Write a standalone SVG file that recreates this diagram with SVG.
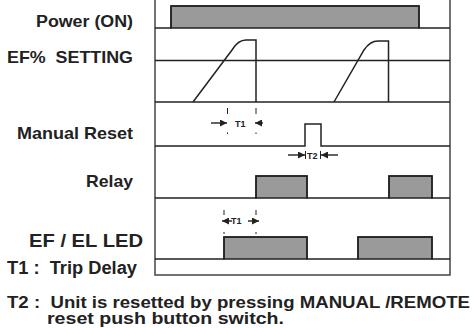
<svg xmlns="http://www.w3.org/2000/svg" width="474" height="328" viewBox="0 0 474 328">
<defs>
<style>
.lbl{font-family:"Liberation Sans",Arial,sans-serif;font-weight:bold;fill:#222;}
.sm{font-family:"Liberation Sans",Arial,sans-serif;font-weight:bold;fill:#222;font-size:9px;}
.ln{stroke:#222;stroke-width:1.5;fill:none;}
.frame{stroke:#444;stroke-width:1.5;fill:none;}
.pulse{fill:#9a9a9a;stroke:#222;stroke-width:1.5;}
.mk{stroke:#222;stroke-width:1;fill:none;}
.ar{stroke:#222;stroke-width:1.4;fill:none;}
</style>
<marker id="ah" viewBox="0 0 10 10" refX="10" refY="5" markerWidth="7" markerHeight="7" markerUnits="userSpaceOnUse" orient="auto">
<path d="M0,0 L10,5 L0,10 z" fill="#222"/>
</marker>
</defs>
<rect width="474" height="328" fill="#fff"/>

<g id="labels">
<text class="lbl" x="36" y="27" font-size="16" textLength="97" lengthAdjust="spacingAndGlyphs">Power (ON)</text>
<text class="lbl" x="7" y="63" font-size="17" textLength="126" lengthAdjust="spacingAndGlyphs" xml:space="preserve">EF%  SETTING</text>
<text class="lbl" x="17" y="139" font-size="17" textLength="116" lengthAdjust="spacingAndGlyphs">Manual Reset</text>
<text class="lbl" x="86" y="187" font-size="17" textLength="47" lengthAdjust="spacingAndGlyphs">Relay</text>
<text class="lbl" x="29" y="247" font-size="18" textLength="114" lengthAdjust="spacingAndGlyphs">EF / EL LED</text>
<text class="lbl" x="7" y="274" font-size="17.5" textLength="130" lengthAdjust="spacingAndGlyphs" xml:space="preserve">T1 :  Trip Delay</text>
<text class="lbl" x="7" y="308" font-size="16.5" textLength="463" lengthAdjust="spacingAndGlyphs" xml:space="preserve">T2 :  Unit is resetted by pressing MANUAL /REMOTE</text>
<text class="lbl" x="47" y="323.5" font-size="16" textLength="237" lengthAdjust="spacingAndGlyphs">reset push button switch.</text>
</g>

<g id="frame">
<path class="frame" d="M155,0 V275 H450 V0"/>
</g>

<g id="power">
<rect class="pulse" x="171" y="6" width="248" height="22"/>
<path class="ln" d="M155,28 H171 V6 H419 V28 H450"/>
</g>

<g id="ef-setting">
<path class="ln" d="M155,60.5 H450"/>
<path class="ln" d="M155,102 H450"/>
<path class="ln" d="M193,102 L232,50 Q238,40 246,40 H256 V102"/>
<path class="ln" d="M334,102 L364,50 Q370,41 378,41 H388.5 V102"/>
</g>

<g id="manual-reset">
<path class="ln" d="M155,146 H305 V124 H321 V146 H450"/>
</g>

<g id="relay">
<rect class="pulse" x="256" y="176" width="51" height="22"/>
<rect class="pulse" x="389" y="176" width="43" height="22"/>
<path class="ln" d="M155,198 H256 V176 H307 V198 H389 V176 H432 V198 H450"/>
</g>

<g id="led">
<rect class="pulse" x="224" y="237" width="83" height="22"/>
<rect class="pulse" x="358" y="237" width="74" height="22"/>
<path class="ln" d="M155,259 H224 V237 H307 V259 H358 V237 H432 V259 H450"/>
</g>

<g id="timing-marks">
<path class="mk" d="M227.5,108 V114 M227.5,132.5 V134 M256,108 V114 M256,132.5 V134"/>
<path class="ar" d="M211,123 H227" marker-end="url(#ah)"/>
<path class="ar" d="M263,123 H255" marker-end="url(#ah)"/>
<text class="sm" x="235" y="126.5">T1</text>

<path class="ar" d="M288,155 H305" marker-end="url(#ah)"/>
<path class="ar" d="M338,155 H321" marker-end="url(#ah)"/>
<path class="mk" d="M305.5,151 V159 M320.5,151 V159"/>
<text class="sm" x="307" y="158.5">T2</text>

<path class="mk" d="M224,210 V215 M224,232 V234 M256,210 V215 M256,232 V234"/>
<path class="ar" d="M232,221 H222" marker-end="url(#ah)"/>
<path class="ar" d="M248,221 H259" marker-end="url(#ah)"/>
<text class="sm" x="231" y="224" font-size="8" font-weight="normal">T1</text>
</g>
</svg>
